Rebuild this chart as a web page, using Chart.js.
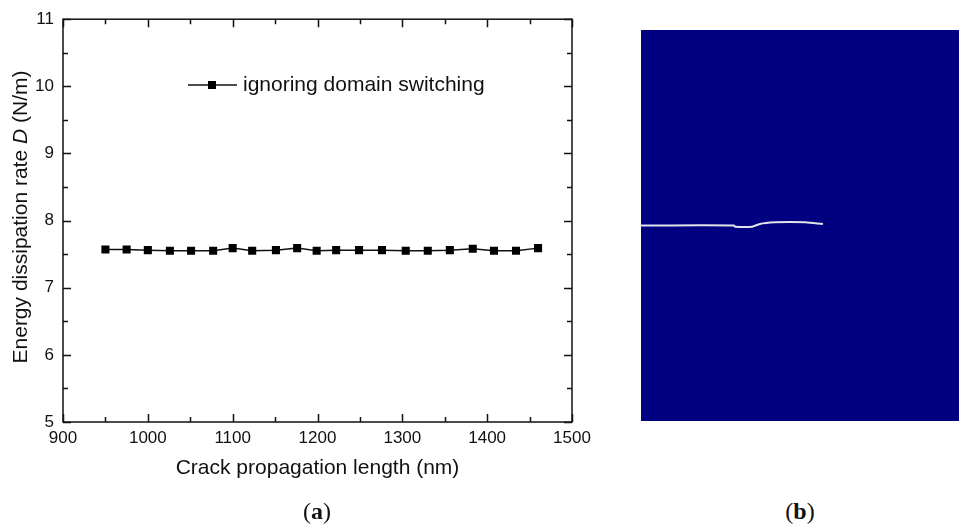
<!DOCTYPE html>
<html>
<head>
<meta charset="utf-8">
<script src="https://cdn.jsdelivr.net/npm/chart.js@4.4.0/dist/chart.umd.min.js"></script>
<style>
  body { margin: 0; background: #fff; width: 959px; height: 529px; position: relative; overflow: hidden;
         font-family: "Liberation Sans", Arial, sans-serif; color: #111; }
  #plotA { position: absolute; left: 0; top: 0; }
  #plotB { position: absolute; left: 641px; top: 30px; }
  .ytitle { position: absolute; left: -180px; top: 204px; width: 400px; text-align: center;
            font-size: 21px; line-height: 26px; transform: rotate(-90deg); }
  .cap { position: absolute; top: 498px; width: 80px; text-align: center;
         font-family: "Liberation Serif", "Times New Roman", serif; font-size: 24px; }
  .cap b { font-weight: bold; }
</style>
</head>
<body>
<canvas id="plotA" width="600" height="500"></canvas>
<div class="ytitle">Energy dissipation rate <i>D</i> (N/m)</div>
<canvas id="plotB" width="318" height="391"></canvas>
<div class="cap" style="left:277px">(<b>a</b>)</div>
<div class="cap" style="left:760px">(<b>b</b>)</div>

<script>
// crack propagation length (nm) and energy dissipation rate D (N/m)
const crackLength = [950, 975, 1000, 1026, 1051, 1077, 1100, 1123, 1151, 1176, 1199,
                     1222, 1249, 1276, 1304, 1330, 1356, 1383, 1408, 1434, 1460];
const dissipation = [7.57, 7.57, 7.56, 7.55, 7.55, 7.55, 7.59, 7.55, 7.56, 7.59, 7.55,
                     7.56, 7.56, 7.56, 7.55, 7.55, 7.56, 7.58, 7.55, 7.55, 7.59];
const seriesLabel = 'ignoring domain switching';

// crack path in panel (b), percent of panel width / height
const crackX = [0, 29.2, 29.6, 34.9, 37.4, 42.1, 46.9, 51.6, 57.2];
const crackY = [50.0, 50.0, 49.7, 49.7, 50.4, 50.8, 50.9, 50.8, 50.4];

const xRange = [900, 1500];
const yRange = [5, 11];

const ink = '#111';
const sans = '"Liberation Sans", Arial, sans-serif';

// closed frame with inward major/minor ticks on all four sides
const frameTicks = {
  id: 'frameTicks',
  afterDraw(chart) {
    const { ctx, chartArea: a, scales: { x, y } } = chart;
    ctx.save();
    ctx.strokeStyle = ink;
    ctx.lineWidth = 1.5;
    ctx.strokeRect(a.left, a.top, a.right - a.left, a.bottom - a.top);
    ctx.beginPath();
    for (let v = xRange[0]; v <= xRange[1]; v += 50) {
      const px = Math.round(x.getPixelForValue(v)) + 0.5;
      const len = v % 100 === 0 ? 8 : 5;
      ctx.moveTo(px, a.bottom); ctx.lineTo(px, a.bottom - len);
      ctx.moveTo(px, a.top); ctx.lineTo(px, a.top + len);
    }
    for (let v = yRange[0]; v <= yRange[1]; v += 0.5) {
      const py = Math.round(y.getPixelForValue(v)) + 0.5;
      const len = v % 1 === 0 ? 8 : 5;
      ctx.moveTo(a.left, py); ctx.lineTo(a.left + len, py);
      ctx.moveTo(a.right, py); ctx.lineTo(a.right - len, py);
    }
    ctx.stroke();
    ctx.restore();
  }
};

// legend entry: line - square - line, then the series label
const lineLegend = {
  id: 'lineLegend',
  afterDraw(chart) {
    const { ctx } = chart;
    const ds = chart.data.datasets[0];
    const x0 = 188, yc = 85;
    ctx.save();
    ctx.strokeStyle = ds.borderColor;
    ctx.lineWidth = 1.5;
    ctx.beginPath();
    ctx.moveTo(x0, yc); ctx.lineTo(x0 + 49, yc);
    ctx.stroke();
    ctx.fillStyle = ds.pointBackgroundColor;
    ctx.fillRect(x0 + 20, yc - 4, 8, 8);
    ctx.fillStyle = ink;
    ctx.font = '21px ' + sans;
    ctx.textBaseline = 'middle';
    ctx.fillText(ds.label, x0 + 55, yc);
    ctx.restore();
  }
};

new Chart(document.getElementById('plotA'), {
  type: 'line',
  data: {
    datasets: [{
      label: seriesLabel,
      data: crackLength.map((v, i) => ({ x: v, y: dissipation[i] })),
      borderColor: ink,
      borderWidth: 1.5,
      pointStyle: 'rect',
      pointRadius: 5.7,
      pointBackgroundColor: '#000',
      pointBorderWidth: 0,
      tension: 0
    }]
  },
  options: {
    responsive: false,
    animation: false,
    devicePixelRatio: 1,
    layout: { padding: { left: 0, right: 28, top: 12, bottom: 0 } },
    plugins: { legend: { display: false }, tooltip: { enabled: false } },
    scales: {
      x: {
        type: 'linear',
        min: xRange[0], max: xRange[1],
        grid: { display: false, drawTicks: false },
        border: { display: false },
        ticks: { stepSize: 100, padding: 6, color: ink, callback: v => String(v),
                 font: { family: sans, size: 17 } },
        title: { display: true, text: 'Crack propagation length (nm)', color: ink,
                 padding: { top: 0, bottom: 19 },
                 font: { family: sans, size: 21 } },
        afterFit(s) { s.height = 78; }
      },
      y: {
        type: 'linear',
        min: yRange[0], max: yRange[1],
        grid: { display: false, drawTicks: false },
        border: { display: false },
        ticks: { stepSize: 1, padding: 9, color: ink, callback: v => String(v),
                 font: { family: sans, size: 17 } },
        afterFit(s) { s.width = 63; }
      }
    }
  },
  plugins: [frameTicks, lineLegend]
});

// panel background
const panelFill = {
  id: 'panelFill',
  beforeDraw(chart) {
    const { ctx, chartArea: a } = chart;
    ctx.save();
    ctx.fillStyle = '#000080';
    ctx.fillRect(a.left, a.top, a.right - a.left, a.bottom - a.top);
    ctx.restore();
  }
};

new Chart(document.getElementById('plotB'), {
  type: 'line',
  data: {
    datasets: [{
      data: crackX.map((v, i) => ({ x: v, y: crackY[i] })),
      borderColor: '#e2e2ea',
      borderWidth: 2,
      pointRadius: 0,
      tension: 0.3
    }]
  },
  options: {
    responsive: false,
    animation: false,
    devicePixelRatio: 1,
    layout: { padding: 0 },
    plugins: { legend: { display: false }, tooltip: { enabled: false } },
    scales: {
      x: { type: 'linear', min: 0, max: 100, display: false },
      y: { type: 'linear', min: 0, max: 100, display: false }
    }
  },
  plugins: [panelFill]
});
</script>
</body>
</html>
